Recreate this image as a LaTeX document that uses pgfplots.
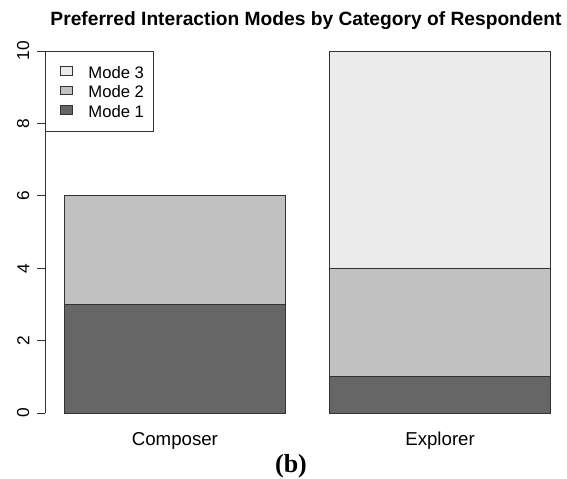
\documentclass[border=0pt]{standalone}
\usepackage{fontspec}
\setmainfont{Liberation Sans}
\newfontfamily\serifb{Liberation Serif}
\usepackage{pgfplots}
\pgfplotsset{compat=1.18}
\definecolor{modeA}{HTML}{666666}
\definecolor{modeB}{HTML}{C0C1C0}
\definecolor{modeC}{HTML}{EAEBEA}
\definecolor{edge}{HTML}{333333}

\begin{document}
\begin{tikzpicture}
% page = 567x478 px at 0.75pt per px; axis box starts at (0,0)
\useasboundingbox (-33.75pt,-48.75pt) rectangle (391.5pt,309.75pt);
\begin{axis}[
  name=ax,
  scale only axis,
  width=393.75pt, height=271.5pt,
  xmin=0.112, xmax=2.488, ymin=0, ymax=10,
  clip=false,
  ybar stacked, bar width=1, bar shift=0pt,
  axis y line*=left,
  axis x line*=bottom,
  x axis line style={draw=none},
  y axis line style={-, draw=black!80, line width=0.6pt},
  xtick={0.7,1.9}, xticklabels={Composer,Explorer},
  xtick style={draw=none},
  xticklabel style={font=\fontsize{14}{16}\selectfont, anchor=base, yshift=-18pt},
  ytick={0,2,4,6,8,10},
  tick align=outside,
  major tick length=6pt,
  ytick style={draw=black!80, line width=0.6pt},
  yticklabel style={font=\fontsize{13}{15}\selectfont, xshift=-2.25pt, rotate=90, anchor=south},
  /pgf/number format/assume math mode=true,
  legend style={at={(0,1)}, anchor=north west, draw=black!80, line width=0.6pt,
    font=\fontsize{12.5}{14}\selectfont, inner xsep=0pt, inner ysep=8pt,
    row sep=0pt, column sep=0pt,
    nodes={inner sep=0pt, text height=12.2pt, text depth=2.4pt},
    cells={anchor=west}},
  reverse legend,
  legend image code/.code={
    \path[draw=none, fill=none] (0pt,0.75pt) -- (32.25pt,0.75pt);
    \draw[#1, draw=edge, line width=0.5pt] (11pt,-2.5pt) rectangle (20.5pt,4pt);},
]
\addplot[fill=modeA, draw=edge, line width=0.6pt] coordinates {(0.7,3) (1.9,1)};
\addplot[fill=modeB, draw=edge, line width=0.6pt] coordinates {(0.7,3) (1.9,3)};
\addplot[fill=modeC, draw=edge, line width=0.6pt] coordinates {(0.7,0) (1.9,6)};
\legend{Mode 1\hspace*{6.75pt},Mode 2\hspace*{6.75pt},Mode 3\hspace*{6.75pt}}
\end{axis}
\node[anchor=base, font=\bfseries\fontsize{14.4}{16}\selectfont] at (195.75pt,290.25pt)
  {Preferred Interaction Modes by Category of Respondent};
\node[anchor=base, font=\serifb\bfseries\fontsize{19.5}{22}\selectfont] at (184.5pt,-44.25pt) {(b)};
\end{tikzpicture}
\end{document}
